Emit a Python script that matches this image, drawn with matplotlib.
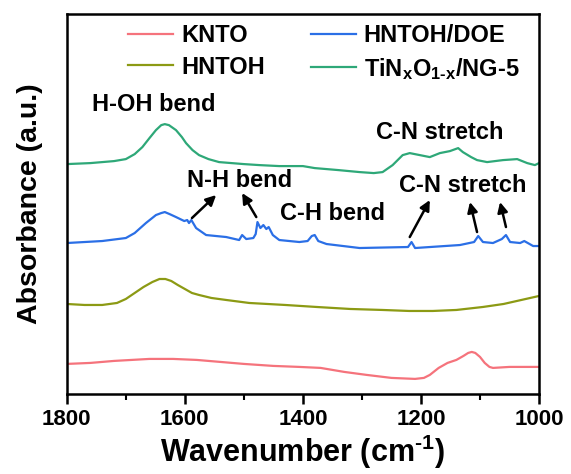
import matplotlib
matplotlib.use("Agg")
import matplotlib.pyplot as plt
from matplotlib.ticker import MultipleLocator

plt.rcParams['font.family'] = ['Liberation Sans', 'DejaVu Sans']
plt.rcParams['font.weight'] = 'bold'
plt.rcParams['mathtext.fontset'] = 'custom'
plt.rcParams['mathtext.rm'] = 'Liberation Sans:bold'
plt.rcParams['mathtext.it'] = 'Liberation Sans:bold'
plt.rcParams['mathtext.bf'] = 'Liberation Sans:bold'

labels = ['KNTO', 'HNTOH', 'HNTOH/DOE', r'TiN$_x$O$_{1\text{-}x}$/NG-5']
colors = ['#F5737C', '#8C9A14', '#2B6FE6', '#2EA878']

knto_x = [1800, 1760, 1720, 1690, 1660, 1620, 1580, 1540, 1500, 1450, 1406, 1370, 1330, 1292,
          1250, 1210, 1195, 1185, 1170, 1155, 1140, 1128, 1120, 1114, 1108, 1100, 1092, 1084,
          1078, 1050, 1020, 1000]
knto_y = [30, 31, 33, 34, 35, 35, 34, 32, 30, 28, 27, 26, 22, 19,
          16, 15, 16, 19, 26, 31, 34, 38, 41, 42, 41, 37, 31, 27,
          26, 27, 27, 27]

hntoh_x = [1800, 1770, 1740, 1715, 1700, 1685, 1670, 1655, 1643, 1633, 1623, 1612, 1600, 1588,
           1576, 1555, 1530, 1491, 1430, 1377, 1320, 1265, 1220, 1180, 1140, 1095, 1060, 1030,
           1000]
hntoh_y = [90, 89, 89, 91, 95, 101, 107, 112, 115, 115, 113, 109, 105, 101,
           99, 96, 94, 91, 89, 87, 85, 84, 83, 83, 84, 87, 90, 94,
           98]

doe_x = [1800, 1740, 1700, 1685, 1666, 1649, 1640, 1634, 1626, 1615, 1601, 1596, 1593, 1589,
         1581, 1564, 1530, 1508, 1503, 1496, 1484, 1480, 1477, 1472, 1467, 1462, 1458, 1451,
         1440, 1406, 1392, 1385, 1380, 1374, 1360, 1304, 1222, 1216, 1210, 1134, 1110, 1103,
         1095, 1078, 1063, 1056, 1049, 1032, 1025, 1010, 1000]
doe_y = [151, 153, 156, 161, 171, 179, 181, 182, 180, 177, 173, 174, 171, 174,
         166, 159, 157, 154, 159, 155, 156, 160, 172, 166, 169, 165, 167, 159,
         154, 152, 153, 158, 159, 153, 150, 146, 147, 152, 146, 149, 152, 158,
         152, 151, 155, 159, 152, 151, 153, 148, 148]

ng_x = [1800, 1760, 1720, 1700, 1685, 1672, 1660, 1649, 1640, 1634, 1627, 1615, 1605, 1598,
        1587, 1576, 1560, 1542, 1500, 1474, 1440, 1400, 1380, 1340, 1304, 1280, 1265, 1248,
        1231, 1219, 1202, 1185, 1168, 1151, 1137, 1129, 1115, 1105, 1088, 1061, 1037, 1020,
        1007, 1000]
ng_y = [230, 231, 233, 235, 240, 247, 256, 264, 269, 270, 269, 264, 257, 251,
        244, 239, 235, 232, 230, 229, 228, 228, 226, 224, 222, 221, 222, 229,
        239, 241, 239, 237, 241, 243, 246, 242, 237, 234, 232, 234, 235, 231,
        229, 231]

series_x = [knto_x, hntoh_x, doe_x, ng_x]
series_y = [knto_y, hntoh_y, doe_y, ng_y]

fig = plt.figure(figsize=(5.71, 4.74), dpi=100)
ax = fig.add_axes([0.117, 0.169, 0.827, 0.801])

for xs, ys, c, lab in zip(series_x, series_y, colors, labels):
    ax.plot(xs, ys, color=c, lw=1.6, label=lab, solid_joinstyle='round')

ax.set_xlim(1800, 1000)
ax.set_ylim(0, 380)
ax.xaxis.set_major_locator(MultipleLocator(200))
ax.xaxis.set_minor_locator(MultipleLocator(100))
ax.set_yticks([])
ax.tick_params(axis='x', which='major', direction='out', length=7, width=1.8, labelsize=16, pad=4)
ax.tick_params(axis='x', which='minor', direction='out', length=4, width=1.5)
for s in ax.spines.values():
    s.set_linewidth(1.8)

ax.set_xlabel(r'Wavenumber (cm$^{\text{-}1}$)', fontsize=22, fontweight='bold', labelpad=2)
ax.set_ylabel('Absorbance (a.u.)', fontsize=20.5, fontweight='bold', labelpad=17)

leg = ax.legend(ncol=2, loc='upper left', bbox_to_anchor=(0.125, 0.98), frameon=False,
                fontsize=17, handlelength=1.9, handletextpad=0.35, columnspacing=1.93,
                labelspacing=0.36, borderpad=0.1, borderaxespad=0.0)

fs = 17
ax.text(1757, 290, 'H-OH bend', fontsize=fs, fontweight='bold', va='center', ha='left')
ax.text(1276, 262, 'C-N stretch', fontsize=fs, fontweight='bold', va='center', ha='left')
ax.text(1597, 214, 'N-H bend', fontsize=fs, fontweight='bold', va='center', ha='left')
ax.text(1439, 181, 'C-H bend', fontsize=fs, fontweight='bold', va='center', ha='left')
ax.text(1237, 209, 'C-N stretch', fontsize=fs, fontweight='bold', va='center', ha='left')

arrows = [((1588, 176), (1547, 199)),
          ((1479, 177), (1503, 201)),
          ((1219, 157), (1185, 194)),
          ((1105, 162), (1117, 192)),
          ((1056, 167), (1066, 192))]
for (x0, y0), (x1, y1) in arrows:
    ax.annotate('', xy=(x1, y1), xytext=(x0, y0),
                arrowprops=dict(arrowstyle='-|>,head_length=0.6,head_width=0.3', color='black',
                                lw=1.8, shrinkA=0, shrinkB=0))

fig.savefig('out.png', dpi=100)
